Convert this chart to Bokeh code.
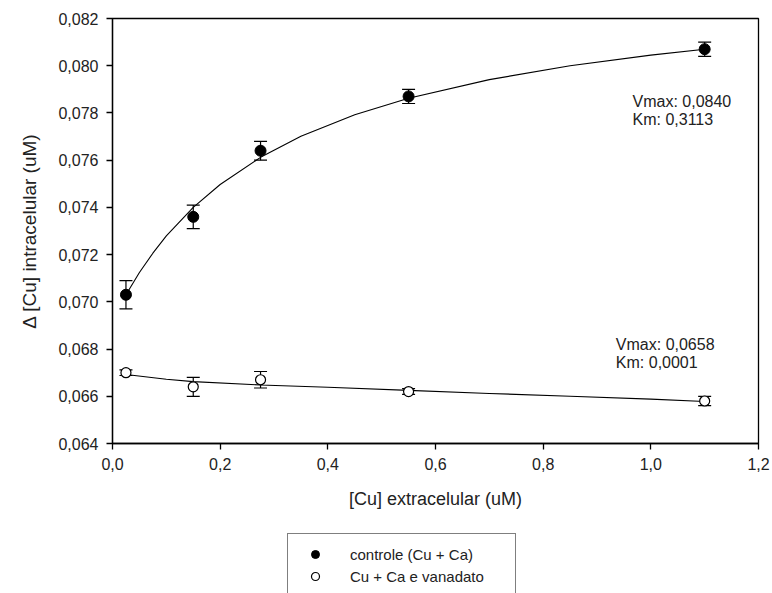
from bokeh.plotting import figure
from bokeh.layouts import column
from bokeh.models import (ColumnDataSource, Whisker, TeeHead, Legend, LegendItem,
                          FixedTicker, CustomJSTickFormatter, Range1d, Label)
from bokeh.embed import file_html
from bokeh.resources import INLINE

# ---- data ----
cu_ext = [0.025, 0.15, 0.275, 0.55, 1.1]
ctrl_y = [0.0703, 0.0736, 0.0764, 0.0787, 0.0807]
ctrl_err = [0.0006, 0.0005, 0.0004, 0.0003, 0.0003]
van_y = [0.0670, 0.0664, 0.0667, 0.0662, 0.0658]
van_err = [0.00012, 0.0004, 0.00035, 0.00012, 0.0002]

# fitted curves
ctrl_fit_x = [0.025, 0.05, 0.075, 0.1, 0.15, 0.2, 0.275, 0.35, 0.45, 0.55, 0.7, 0.85, 1.0, 1.1]
ctrl_fit_y = [0.07030, 0.07124, 0.07206, 0.07279, 0.07400, 0.07497, 0.07612, 0.07701,
              0.07792, 0.07862, 0.07941, 0.08000, 0.08045, 0.08070]
van_fit_x = [0.025, 0.1, 0.15, 0.275, 0.4, 0.55, 0.7, 0.85, 1.0, 1.1]
van_fit_y = [0.06692, 0.06672, 0.06662, 0.06648, 0.06638, 0.06625, 0.06612, 0.06600,
             0.06588, 0.06578]

x_ticks = [0.0, 0.2, 0.4, 0.6, 0.8, 1.0, 1.2]
y_ticks = [0.064, 0.066, 0.068, 0.070, 0.072, 0.074, 0.076, 0.078, 0.080, 0.082]

ann_ctrl = ["Vmax: 0,0840", "Km: 0,3113"]
ann_van = ["Vmax: 0,0658", "Km: 0,0001"]
legend_labels = ["controle (Cu + Ca)", "Cu + Ca e vanadato"]

FONT = "Liberation Sans"
TXT = "#222222"

p = figure(width=772, height=530, output_backend="svg", toolbar_location=None,
           x_range=Range1d(0, 1.2), y_range=Range1d(0.064, 0.082),
           min_border_left=112, min_border_right=14, min_border_top=18,
           min_border_bottom=87)
p.xgrid.visible = False
p.ygrid.visible = False
p.outline_line_color = "black"
p.outline_line_width = 1.3
p.background_fill_color = "white"
p.border_fill_color = "white"

for ax in (p.xaxis[0], p.yaxis[0]):
    ax.axis_line_color = "black"
    ax.axis_line_width = 1.3
    ax.major_tick_line_color = "black"
    ax.major_tick_line_width = 1.3
    ax.major_tick_out = 6
    ax.major_tick_in = 0
    ax.minor_tick_line_color = None
    ax.major_label_text_font = FONT
    ax.major_label_text_font_size = "16px"
    ax.major_label_text_color = TXT
    ax.axis_label_text_font = FONT
    ax.axis_label_text_font_style = "normal"
    ax.axis_label_text_font_size = "18px"
    ax.axis_label_text_color = TXT

p.yaxis.axis_label_text_font_size = "19px"
p.xaxis.ticker = FixedTicker(ticks=x_ticks)
p.yaxis.ticker = FixedTicker(ticks=y_ticks)
p.xaxis.formatter = CustomJSTickFormatter(code="return tick.toFixed(1).replace('.', ',');")
p.yaxis.formatter = CustomJSTickFormatter(code="return tick.toFixed(3).replace('.', ',');")
p.xaxis.axis_label = "[Cu] extracelular (uM)"
p.yaxis.axis_label = "Δ [Cu] intracelular (uM)"
p.xaxis.major_label_standoff = 8
p.xaxis.axis_label_standoff = 16
p.yaxis.major_label_standoff = 8
p.yaxis.axis_label_standoff = 15

# fitted curves
p.line(ctrl_fit_x, ctrl_fit_y, line_color="black", line_width=1.1)
p.line(van_fit_x, van_fit_y, line_color="black", line_width=1.1)

# error bars
src_c = ColumnDataSource(dict(x=cu_ext, y=ctrl_y,
                              lo=[y - e for y, e in zip(ctrl_y, ctrl_err)],
                              hi=[y + e for y, e in zip(ctrl_y, ctrl_err)]))
src_v = ColumnDataSource(dict(x=cu_ext, y=van_y,
                              lo=[y - e for y, e in zip(van_y, van_err)],
                              hi=[y + e for y, e in zip(van_y, van_err)]))
for src in (src_c, src_v):
    w = Whisker(base="x", lower="lo", upper="hi", source=src,
                line_color="black", line_width=1.2,
                lower_head=TeeHead(size=13, line_color="black", line_width=1.2),
                upper_head=TeeHead(size=13, line_color="black", line_width=1.2))
    p.add_layout(w)

p.scatter("x", "y", source=src_c, size=11, marker="circle",
          fill_color="black", line_color="black")
p.scatter("x", "y", source=src_v, size=10, marker="circle",
          fill_color="white", line_color="black", line_width=1.2)

# annotations
for i, t in enumerate(ann_ctrl):
    p.add_layout(Label(x=0.966, y=0.0785, x_offset=0, y_offset=-18 * i, text=t,
                       text_font=FONT, text_font_size="16px", text_color=TXT,
                       text_baseline="middle"))
for i, t in enumerate(ann_van):
    p.add_layout(Label(x=0.935, y=0.0682, x_offset=0, y_offset=-18 * i, text=t,
                       text_font=FONT, text_font_size="16px", text_color=TXT,
                       text_baseline="middle"))

# ---- legend strip below the chart ----
p2 = figure(width=772, height=63, output_backend="svg", toolbar_location=None,
            x_range=Range1d(0, 1), y_range=Range1d(0, 1), min_border=0)
p2.xaxis.visible = False
p2.yaxis.visible = False
p2.xgrid.visible = False
p2.ygrid.visible = False
p2.outline_line_color = None
p2.background_fill_color = "white"
p2.border_fill_color = "white"

# off-range placeholder points so the legend swatches are drawn
hidden = dict(x=[-5.0], y=[-5.0])
r_c = p2.scatter("x", "y", source=ColumnDataSource(hidden), size=11, marker="circle",
                 fill_color="black", line_color="black")
r_v = p2.scatter("x", "y", source=ColumnDataSource(hidden), size=10, marker="circle",
                 fill_color="white", line_color="black", line_width=1.2)

legend = Legend(items=[LegendItem(label=legend_labels[0], renderers=[r_c]),
                       LegendItem(label=legend_labels[1], renderers=[r_v])],
                location=(175, -4), orientation="vertical",
                border_line_color="black", border_line_width=1.2,
                label_text_font=FONT, label_text_font_size="15px",
                label_text_color=TXT, label_width=155,
                glyph_width=34, glyph_height=20, spacing=2,
                padding=10, margin=0, label_standoff=18,
                background_fill_color="white")
p2.add_layout(legend, "center")

open("out.html", "w").write(file_html(column(p, p2, spacing=0), INLINE))
